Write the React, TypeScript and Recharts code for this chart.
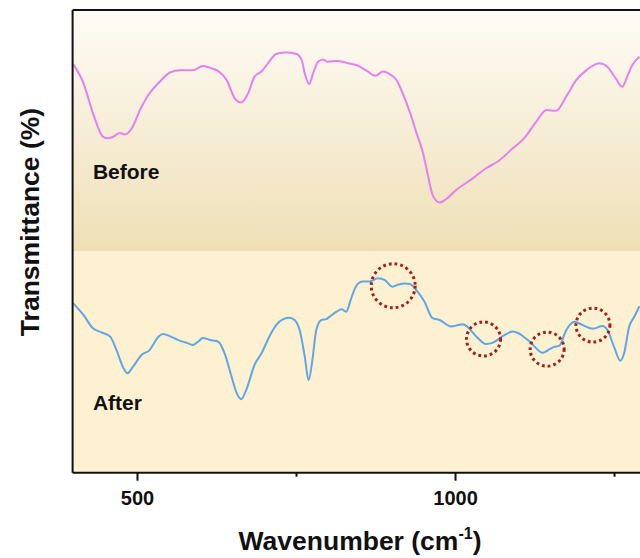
import React from 'react';
import { LineChart, Line, XAxis, YAxis, ReferenceArea, ReferenceLine, ReferenceDot } from 'recharts';

const FONT = '"Liberation Sans", Arial, Helvetica, sans-serif';

// FTIR spectrum "Before"
const beforeWn = [399, 415, 430, 446, 454, 462, 472, 480, 491, 504, 519, 535, 551, 567, 587, 603, 614, 627, 640, 653, 663, 674, 684, 695, 708, 718, 734, 750, 758, 763, 770, 776, 784, 792, 799, 813, 831, 844, 860, 874, 886, 896, 907, 917, 928, 938, 949, 957, 964, 975, 985, 1001, 1027, 1048, 1066, 1090, 1108, 1127, 1143, 1158, 1174, 1190, 1205, 1226, 1239, 1252, 1262, 1271, 1278, 1289];
const beforeT = [88.3, 84.2, 77.7, 72.6, 72.3, 72.6, 73.4, 73.1, 74.4, 78.4, 82.0, 84.5, 86.5, 87.0, 87.0, 87.9, 87.5, 86.8, 84.9, 80.9, 80.0, 82.0, 85.6, 86.7, 89.0, 90.5, 90.8, 90.5, 89.2, 86.3, 84.0, 86.3, 88.8, 89.3, 88.8, 89.0, 88.5, 88.1, 86.9, 85.8, 86.7, 86.2, 84.9, 82.0, 78.0, 73.7, 69.0, 64.0, 60.0, 58.4, 59.1, 61.1, 63.6, 65.8, 67.2, 70.1, 72.3, 75.9, 78.4, 78.2, 81.3, 84.9, 86.9, 88.5, 87.7, 85.2, 83.4, 86.0, 88.1, 89.9];

// FTIR spectrum "After"
const afterWn = [399, 415, 430, 444, 457, 467, 478, 484, 493, 506, 519, 533, 540, 551, 567, 577, 587, 595, 603, 614, 627, 637, 648, 656, 663, 671, 684, 695, 708, 718, 729, 739, 747, 755, 763, 769, 775, 781, 789, 797, 802, 813, 821, 828, 836, 844, 854, 865, 878, 889, 901, 909, 920, 928, 938, 951, 964, 975, 993, 1004, 1011, 1019, 1033, 1048, 1059, 1074, 1090, 1103, 1119, 1137, 1148, 1155, 1163, 1174, 1187, 1200, 1216, 1231, 1239, 1250, 1259, 1265, 1273, 1281, 1289];
const afterT = [36.6, 34.1, 31.2, 30.3, 29.4, 26.5, 22.6, 21.5, 22.9, 25.4, 26.5, 29.4, 30.0, 29.5, 28.5, 28.1, 27.6, 28.3, 29.1, 28.7, 28.3, 25.8, 20.7, 17.2, 15.9, 17.9, 23.3, 25.8, 29.6, 31.9, 33.2, 33.5, 33.0, 30.8, 25.1, 20.0, 24.4, 30.8, 33.0, 33.2, 33.7, 34.8, 35.3, 34.8, 37.7, 40.4, 41.3, 41.3, 42.0, 41.6, 40.2, 40.6, 40.9, 40.8, 39.5, 37.0, 33.4, 33.0, 31.6, 31.9, 32.1, 31.5, 29.4, 27.8, 28.1, 29.5, 30.5, 29.8, 28.0, 25.9, 26.7, 27.2, 27.4, 30.8, 32.6, 31.9, 31.1, 31.7, 30.8, 26.9, 24.2, 25.8, 31.6, 33.7, 36.0];

// highlighted features (dotted circles)
const circleWn = [902, 1044, 1144, 1216];
const circleT = [40.4, 28.9, 26.7, 31.9];

// series name labels, placed in data coordinates
const seriesNames = ['Before', 'After'];
const nameWn = [430, 430];
const nameT = [65.0, 15.1];

const xTicks = [500, 750, 1000, 1250];
const labeledTicks = [500, 1000];
const xDomain = [398, 1290];
const yDomain = [0, 100];
const bandSplit = 47.8;

const beforeData = beforeWn.map((w, i) => ({ w, t: beforeT[i] }));
const afterData = afterWn.map((w, i) => ({ w, t: afterT[i] }));

const Tick = (props: any) => {
  const { x, y, payload } = props;
  const major = labeledTicks.includes(payload.value);
  return (
    <g>
      <line x1={x} x2={x} y1={y} y2={y + (major ? 8 : 4)} stroke="#111" strokeWidth={2} />
      {major && (
        <text x={x} y={y + 32} textAnchor="middle" fontFamily={FONT} fontWeight="bold" fontSize={20} fill="#111">
          {payload.value}
        </text>
      )}
    </g>
  );
};

const nameLabel = (name: string) => (props: any) => {
  const vb = props.viewBox || {};
  const cx = vb.cx ?? vb.x ?? 0;
  const cy = vb.cy ?? vb.y ?? 0;
  return (
    <text x={cx} y={cy + 7.5} fontFamily={FONT} fontWeight="bold" fontSize={21} fill="#111">
      {name}
    </text>
  );
};

export default function App() {
  return (
    <div style={{ position: 'absolute', left: 0, top: 0, width: 640, height: 558, background: '#fff' }}>
      <LineChart width={640} height={558} margin={{ top: 10, right: 0, left: 72.6, bottom: 0 }}>
        <defs>
          <linearGradient id="topGrad" x1="0" y1="0" x2="0" y2="1">
            <stop offset="0%" stopColor="#fefcf6" />
            <stop offset="100%" stopColor="#eedfb5" />
          </linearGradient>
        </defs>
        <ReferenceArea y1={bandSplit} y2={yDomain[1]} fill="url(#topGrad)" fillOpacity={1} stroke="none" />
        <ReferenceArea y1={yDomain[0]} y2={bandSplit} fill="#fdf1d1" fillOpacity={1} stroke="none" />
        <XAxis
          dataKey="w"
          type="number"
          domain={xDomain}
          ticks={xTicks}
          allowDataOverflow
          height={85.3}
          tickLine={false}
          tickSize={0}
          tickMargin={0}
          tick={<Tick />}
          axisLine={{ stroke: '#111', strokeWidth: 2 }}
        />
        <YAxis type="number" domain={yDomain} hide />
        <Line data={beforeData} dataKey="t" type="monotone" stroke="#e57ff2" strokeWidth={2} dot={false} isAnimationActive={false} />
        <Line data={afterData} dataKey="t" type="monotone" stroke="#5ea6e6" strokeWidth={2} dot={false} isAnimationActive={false} />
        {circleWn.map((w, i) => (
          <ReferenceDot
            key={w}
            x={w}
            y={circleT[i]}
            r={i === 0 ? 22 : 17}
            fill="none"
            stroke="#a81c1c"
            strokeWidth={3}
            strokeDasharray="2.8 3"
          />
        ))}
        {seriesNames.map((name, i) => (
          <ReferenceDot
            key={name}
            x={nameWn[i]}
            y={nameT[i]}
            r={0}
            fill="none"
            stroke="none"
            label={{ content: nameLabel(name) }}
          />
        ))}
        <ReferenceLine y={yDomain[1]} stroke="#111" strokeWidth={2} />
        <ReferenceLine x={xDomain[0]} stroke="#111" strokeWidth={2} />
        <text x={360} y={550} textAnchor="middle" fontFamily={FONT} fontWeight="bold" fontSize={26.5} fill="#111">
          Wavenumber (cm<tspan fontSize={16} dy={-11}>-1</tspan><tspan dy={11}>)</tspan>
        </text>
        <text
          x={0}
          y={0}
          transform="translate(39, 222) rotate(-90)"
          textAnchor="middle"
          fontFamily={FONT}
          fontWeight="bold"
          fontSize={26.5}
          fill="#111"
        >
          Transmittance (%)
        </text>
      </LineChart>
    </div>
  );
}
